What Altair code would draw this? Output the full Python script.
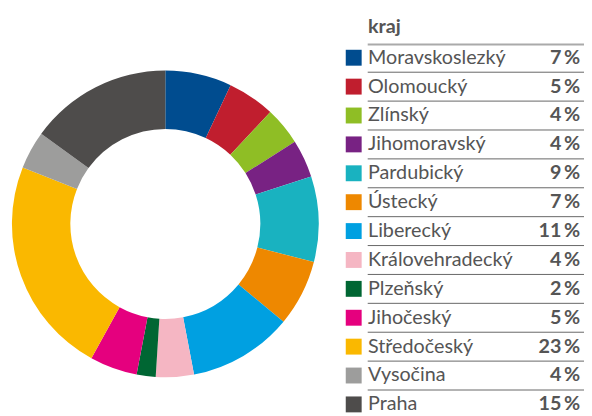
import altair as alt
import pandas as pd

names = ["Moravskoslezký", "Olomoucký", "Zlínský", "Jihomoravský", "Pardubický",
         "Ústecký", "Liberecký", "Královehradecký", "Plzeňský", "Jihočeský",
         "Středočeský", "Vysočina", "Praha"]
values = [7, 5, 4, 4, 9, 7, 11, 4, 2, 5, 23, 4, 15]
colors = ["#004C8F", "#C01E2E", "#8FBE25", "#782283", "#19B2C0",
          "#EE8800", "#00A0E1", "#F5B6C3", "#006633", "#E5007E",
          "#FAB800", "#9D9D9C", "#4E4C4B"]
legend_title = "kraj"

df = pd.DataFrame({"kraj": names, "podil": values, "idx": list(range(len(names)))})
df["label"] = [f"{v}\u2009%" for v in values]

FONT = "Lato"
TXT = "#555555"

color_scale = alt.Scale(domain=names, range=colors)
y_scale = alt.Scale(domain=names, range=[47.5, 399], type="point", padding=0)

base = alt.Chart(df)

donut = base.mark_arc(radius=155.5, radius2=96.3).encode(
    theta=alt.Theta("podil:Q", stack=True),
    order=alt.Order("idx:Q"),
    color=alt.Color("kraj:N", scale=color_scale, legend=None),
    x=alt.value(159.5),
    y=alt.value(216),
)

swatch = base.mark_square(size=260, opacity=1, filled=True).encode(
    x=alt.value(350.5),
    y=alt.Y("kraj:N", scale=y_scale, axis=None),
    color=alt.Color("kraj:N", scale=color_scale, legend=None),
)

name_txt = base.mark_text(align="left", baseline="middle", font=FONT, fontSize=20,
                          color=TXT).encode(
    x=alt.value(365),
    y=alt.Y("kraj:N", scale=y_scale, axis=None),
    text="kraj:N",
)

pct_txt = base.mark_text(align="right", baseline="middle", font=FONT, fontSize=20,
                         fontWeight="bold", color=TXT).encode(
    x=alt.value(580),
    y=alt.Y("kraj:N", scale=y_scale, axis=None),
    text="label:N",
)

sep = base.transform_filter(alt.datum.idx > 0).mark_rule(color="#666666", strokeWidth=1,
                                                         yOffset=-14.6).encode(
    x=alt.value(364.7),
    x2=alt.value(584),
    y=alt.Y("kraj:N", scale=y_scale, axis=None),
)

top_sep = base.transform_filter(alt.datum.idx == 0).mark_rule(color="#AAAAAA", strokeWidth=2,
                                                              yOffset=-13.5).encode(
    x=alt.value(364.7),
    x2=alt.value(584),
    y=alt.Y("kraj:N", scale=y_scale, axis=None),
)

title_txt = alt.Chart(pd.DataFrame({"t": [legend_title]})).mark_text(
    align="left", baseline="alphabetic", font=FONT, fontSize=20, fontWeight="bold",
    color=TXT).encode(
    x=alt.value(365),
    y=alt.value(22),
    text="t:N",
)

chart = alt.layer(donut, sep, top_sep, swatch, name_txt, pct_txt, title_txt).properties(
    width=584, height=420, padding=0, autosize=alt.AutoSizeParams(type="none")
).configure_view(stroke=None)

chart.save("out.html", embed_options={"renderer": "svg", "actions": False})
